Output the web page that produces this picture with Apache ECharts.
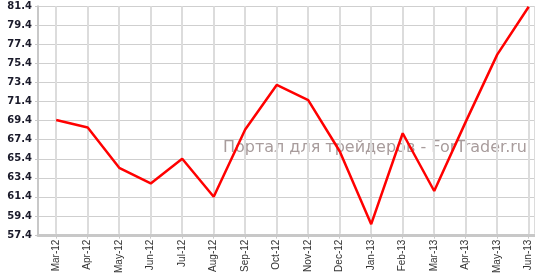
<!DOCTYPE html>
<html>
<head>
<meta charset="utf-8">
<script src="https://cdn.jsdelivr.net/npm/echarts@6/dist/echarts.min.js"></script>
<style>html,body{margin:0;padding:0;background:#fff}#c{width:535px;height:276px}</style>
</head>
<body>
<div id="c"></div>
<script>
var months = ['Mar-12','Apr-12','May-12','Jun-12','Jul-12','Aug-12','Sep-12','Oct-12','Nov-12','Dec-12','Jan-13','Feb-13','Mar-13','Apr-13','May-13','Jun-13'];
var values = [69.4, 68.6, 64.35, 62.7, 65.3, 61.3, 68.4, 73.1, 71.5, 66.1, 58.4, 68.0, 61.9, 69.2, 76.3, 81.35];
var yTickLabels = ['57.4','59.4','61.4','63.4','65.4','67.4','69.4','71.4','73.4','75.4','77.4','79.4','81.4'];
var watermark = 'Портал для трейдеров - ForTrader.ru';

var chart = echarts.init(document.getElementById('c'), null, {renderer: 'canvas'});
var seriesData = values.map(function (v, i) { return [i, v]; });
chart.setOption({
  animation: false,
  backgroundColor: '#fff',
  grid: [
    {left: 56.2, right: 0, top: 6.3, bottom: 41},
    {left: 38, right: 0, top: 6.3, bottom: 41}
  ],
  xAxis: [{
    gridIndex: 0,
    type: 'value',
    min: 0,
    max: 15.2,
    interval: 1,
    axisLine: {show: false},
    axisTick: {show: true, length: 5, lineStyle: {color: '#c8c8c8', width: 1}},
    splitLine: {show: true, lineStyle: {color: '#dcdcdc', width: 2}},
    axisLabel: {
      rotate: 90,
      margin: 6,
      showMaxLabel: true,
      fontFamily: 'Liberation Sans',
      fontSize: 10,
      color: '#333',
      formatter: function (v) { return (Math.abs(v - Math.round(v)) < 1e-6 && months[Math.round(v)]) ? months[Math.round(v)] : ''; }
    }
  }, {
    gridIndex: 1,
    type: 'value',
    min: 0,
    max: 1,
    axisLine: {show: true, lineStyle: {color: '#c8c8c8', width: 3}},
    axisTick: {show: false},
    axisLabel: {show: false},
    splitLine: {show: false}
  }],
  yAxis: [{
    gridIndex: 0,
    type: 'value',
    min: 57.4,
    max: 81.4,
    show: false,
    splitLine: {show: false}
  }, {
    gridIndex: 1,
    type: 'category',
    data: yTickLabels,
    boundaryGap: false,
    axisLine: {show: true, lineStyle: {color: '#c8c8c8', width: 2}},
    axisTick: {show: true, length: 3, alignWithLabel: true, lineStyle: {color: '#c8c8c8'}},
    splitLine: {show: true, lineStyle: {color: '#cfcfcf', width: 1}},
    axisLabel: {margin: 6, fontFamily: 'DejaVu Sans', fontWeight: 'bold', fontSize: 10, color: '#1a1a2a'}
  }],
  graphic: [{
    type: 'text',
    right: 8,
    top: 140,
    z: -1,
    style: {text: watermark, fill: '#a89c9c', font: '16px "DejaVu Sans"'}
  }],
  series: [{
    type: 'line',
    xAxisIndex: 0,
    yAxisIndex: 0,
    data: seriesData,
    symbol: 'none',
    zlevel: 1,
    lineStyle: {color: '#ff0000', width: 2.5}
  }]
});
</script>
</body>
</html>
